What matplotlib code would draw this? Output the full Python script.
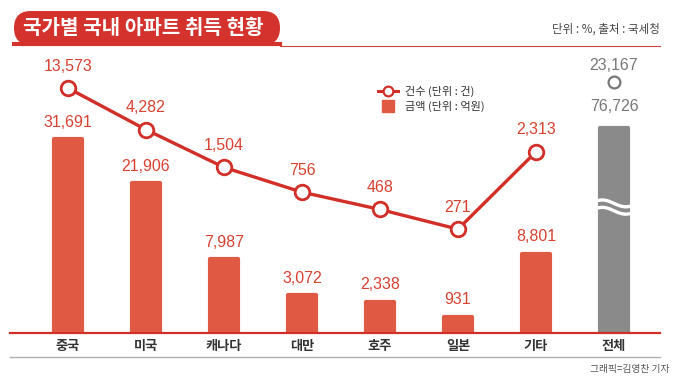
import numpy as np
import matplotlib.pyplot as plt
from matplotlib.lines import Line2D
from matplotlib.patches import FancyBboxPatch
from matplotlib.ticker import NullLocator
import matplotlib.transforms as mtransforms

# data
countries = ["중국", "미국", "캐나다", "대만", "호주", "일본", "기타", "전체"]
amount = [31691, 21906, 7987, 3072, 2338, 931, 8801, 76726]   # 금액 (억원)
count = [13573, 4282, 1504, 756, 468, 271, 2313, 23167]        # 건수 (건)

KR = "Noto Sans CJK KR"
NUM = ["Liberation Sans", "DejaVu Sans"]
plt.rcParams["font.family"] = [KR, "DejaVu Sans"]

BAR_C = "#e05a43"
LINE_C = "#d12f28"
LBL_C = "#d8412f"
GRAY = "#8a8a8a"
BREAK_AT = 34300  # total bar is cut (axis break)

fig = plt.figure(figsize=(6.8, 3.83), dpi=100)
W, H = 680, 383

def fx(px):
    return px / W

def fy(py):
    return 1 - py / H

ax = fig.add_axes([fx(10), fy(333), fx(650), 283 / H])
ax.set_facecolor("none")

p = 0.7
ax.set_yscale("function", functions=(lambda v: np.sign(v) * np.abs(v) ** p,
                                     lambda v: np.sign(v) * np.abs(v) ** (1 / p)))
ax.set_ylim(0, 54400)
ax.set_xlim(-0.743, 7.59)

x = np.arange(len(countries))
heights = [min(v, BREAK_AT) for v in amount]
colors = [BAR_C] * 7 + [GRAY]
ax.bar(x, heights, width=0.37, color=colors, edgecolor=colors,
       linewidth=3, joinstyle="round", zorder=2)

for i in range(7):
    ax.annotate(f"{amount[i]:,}", (x[i], heights[i]), xytext=(0, 17),
                textcoords="offset pixels", ha="center", va="center",
                fontsize=11.5, color=LBL_C, family=NUM)

# total bar labels and marker (above the break)
ax.annotate(f"{amount[7]:,}", (x[7], heights[7]), xytext=(0, 22),
            textcoords="offset pixels", ha="center", va="center",
            fontsize=11.5, color="#777777", family=NUM)
ax.annotate(f"{count[7]:,}", (x[7], heights[7]), xytext=(0, 63),
            textcoords="offset pixels", ha="center", va="center",
            fontsize=11.5, color="#777777", family=NUM)
off = mtransforms.offset_copy(ax.transData, fig=fig, x=0, y=46, units="dots")
ax.plot([x[7]], [heights[7]], marker="o", ms=8.5, mfc="white", mec="#777777",
        mew=1.6, transform=off, zorder=5, clip_on=False)

# break marks on the total bar
bt = mtransforms.blended_transform_factory(ax.transData, ax.transAxes)
xs = np.linspace(x[7] - 0.3, x[7] + 0.3, 60)
for yb in (0.432, 0.458):
    ys = yb + 0.012 * np.sin((xs - xs[0]) / 0.6 * 2 * np.pi)
    ax.plot(xs, ys, color="white", lw=2.4, transform=bt, zorder=4)

# line on log axis
ax2 = ax.twinx()
ax2.set_yscale("log")
ax2.set_ylim(15.2, 39000)
ax2.plot(x[:7], count[:7], color=LINE_C, lw=2.4, marker="o", ms=10.5,
         mfc="white", mec=LINE_C, mew=2, zorder=3)
for i in range(7):
    ax2.annotate(f"{count[i]:,}", (x[i], count[i]), xytext=(0, 22),
                 textcoords="offset pixels", ha="center", va="center",
                 fontsize=11.5, color=LBL_C, family=NUM)

for a in (ax, ax2):
    for s in a.spines.values():
        s.set_visible(False)
    a.yaxis.set_minor_locator(NullLocator())
    a.tick_params(axis="y", which="both", left=False, right=False,
                  labelleft=False, labelright=False)

ax.spines["bottom"].set_visible(True)
ax.spines["bottom"].set_color(LINE_C)
ax.spines["bottom"].set_linewidth(1.6)
ax.spines["bottom"].set_zorder(6)
ax.set_xticks(x)
ax.set_xticklabels(countries, fontsize=9.5, fontweight="bold", color="#333333")
ax.tick_params(axis="x", length=0, pad=4)

# legend
handles = [Line2D([], [], color=LINE_C, lw=2.2, marker="o", ms=7, mfc="white",
                  mec=LINE_C, mew=1.6),
           Line2D([], [], color=BAR_C, lw=0, marker="s", ms=8.5)]
fig.legend(handles, ["건수 (단위 : 건)", "금액 (단위 : 억원)"],
           loc="upper left", bbox_to_anchor=(fx(368), fy(76)), frameon=False,
           fontsize=8, handlelength=1.8, handletextpad=0.6, labelspacing=0.35,
           labelcolor="#333333")

# header
tab = FancyBboxPatch((fx(14), fy(45)), fx(266), fy(11) - fy(45),
                     boxstyle="round,pad=0,rounding_size=0.025",
                     transform=fig.transFigure, facecolor="#d3322d",
                     edgecolor="none", mutation_aspect=1.78)
fig.patches.append(tab)
fig.add_artist(Line2D([fx(14), fx(280)], [fy(44), fy(44)], color="#d3322d",
                      lw=3, transform=fig.transFigure))
fig.add_artist(Line2D([fx(280), fx(660)], [fy(46), fy(46)], color="#c9463f",
                      lw=0.8, transform=fig.transFigure))
fig.text(fx(23), fy(28), "국가별 국내 아파트 취득 현황", color="white",
         fontsize=14.5, fontweight="bold", va="center", ha="left")
fig.text(fx(660), fy(29), "단위 : %, 출처 : 국세청", color="#444444",
         fontsize=8.3, va="center", ha="right")

# bottom rule and credit
fig.add_artist(Line2D([fx(10), fx(660)], [fy(357), fy(357)], color="#b0b0b0",
                      lw=1, transform=fig.transFigure))
fig.text(fx(670), fy(369), "그래픽=김영찬 기자", color="#555555",
         fontsize=7, va="center", ha="right")

fig.savefig("out.png", dpi=100)
